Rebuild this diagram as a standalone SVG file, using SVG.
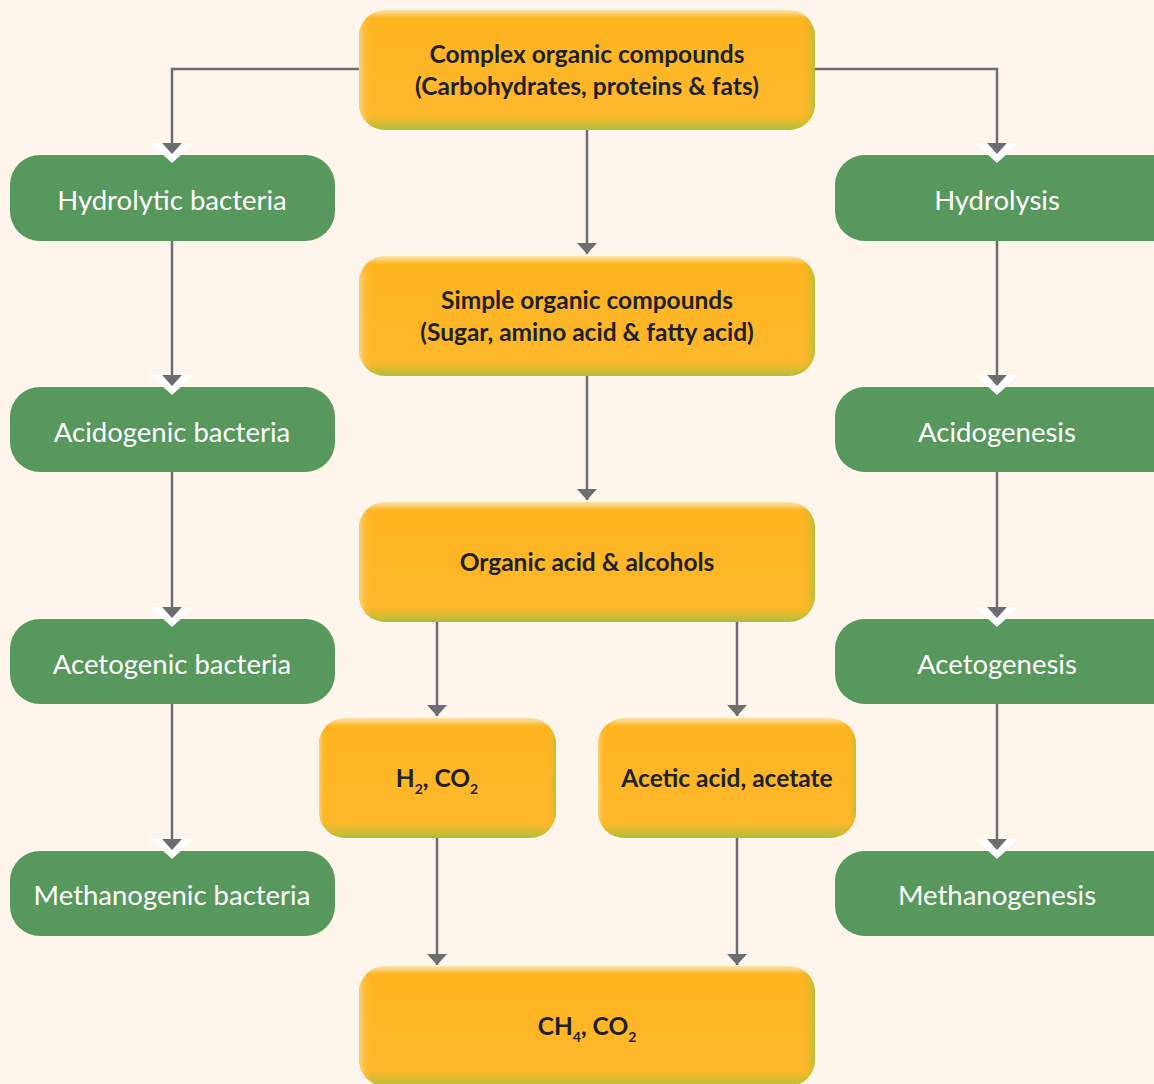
<svg xmlns="http://www.w3.org/2000/svg" width="1154" height="1084" viewBox="0 0 1154 1084">
<defs>
<linearGradient id="og" x1="0" y1="0" x2="0" y2="1">
<stop offset="0" stop-color="#fde3ad"/>
<stop offset="0.07" stop-color="#fdb520"/>
<stop offset="0.88" stop-color="#fdb82c"/>
<stop offset="0.95" stop-color="#d7bb32"/>
<stop offset="1" stop-color="#a6c140"/>
</linearGradient>
<linearGradient id="oh" x1="0" y1="0" x2="1" y2="0">
<stop offset="0" stop-color="#fde3ad" stop-opacity="0.6"/>
<stop offset="0.03" stop-color="#fdb520" stop-opacity="0"/>
<stop offset="0.97" stop-color="#fdb520" stop-opacity="0"/>
<stop offset="1" stop-color="#b6c038" stop-opacity="0.9"/>
</linearGradient>
<marker id="ar" viewBox="0 0 22 12" refX="11" refY="11" markerWidth="22" markerHeight="12" markerUnits="userSpaceOnUse" orient="0">
<path d="M1,0 L21,0 L11,11 Z" fill="#6d6e71"/>
</marker>
<marker id="arw" viewBox="0 0 44 22" refX="22" refY="1" markerWidth="44" markerHeight="22" markerUnits="userSpaceOnUse" orient="0">
<path d="M0,0 L44,0 L22,20 Z" fill="#ffffff"/>
<path d="M12,0 L32,0 L22,11 Z" fill="#6d6e71"/>
</marker>
<style>
.ob{fill:url(#og)}
.oh{fill:url(#oh)}
.gb{fill:#57985e}
.ot{font-family:Lato,"Liberation Sans",sans-serif;font-weight:bold;font-size:24.5px;fill:#231f20;text-anchor:middle}
.gt{font-family:Lato,"Liberation Sans",sans-serif;font-size:27.5px;fill:#ffffff;text-anchor:middle}
.ln{fill:none;stroke:#6d6e71;stroke-width:2.5}
</style>
</defs>
<rect width="1154" height="1084" fill="#fef6ec"/>
<g id="n-complex">
<rect class="ob" x="359" y="10" width="456" height="120" rx="26"/>
<rect class="oh" x="359" y="10" width="456" height="120" rx="26"/>
<text class="ot" x="587" y="63">Complex organic compounds</text>
<text class="ot" x="587" y="95">(Carbohydrates, proteins &amp; fats)</text>
</g>
<g id="n-simple">
<rect class="ob" x="359" y="256" width="456" height="120" rx="26"/>
<rect class="oh" x="359" y="256" width="456" height="120" rx="26"/>
<text class="ot" x="587" y="309">Simple organic compounds</text>
<text class="ot" x="587" y="341">(Sugar, amino acid &amp; fatty acid)</text>
</g>
<g id="n-organic">
<rect class="ob" x="359" y="502" width="456" height="120" rx="26"/>
<rect class="oh" x="359" y="502" width="456" height="120" rx="26"/>
<text class="ot" x="587" y="571">Organic acid &amp; alcohols</text>
</g>
<g id="n-h2">
<rect class="ob" x="319" y="718" width="237" height="120" rx="26"/>
<rect class="oh" x="319" y="718" width="237" height="120" rx="26"/>
<text class="ot" x="437" y="787">H<tspan font-size="14" dy="7">2</tspan><tspan dy="-7">, CO</tspan><tspan font-size="14" dy="7">2</tspan></text>
</g>
<g id="n-acetic">
<rect class="ob" x="598" y="718" width="258" height="120" rx="26"/>
<rect class="oh" x="598" y="718" width="258" height="120" rx="26"/>
<text class="ot" x="727" y="787">Acetic acid, acetate</text>
</g>
<g id="n-ch4">
<rect class="ob" x="359" y="966" width="456" height="120" rx="26"/>
<rect class="oh" x="359" y="966" width="456" height="120" rx="26"/>
<text class="ot" x="587" y="1035">CH<tspan font-size="14" dy="7">4</tspan><tspan dy="-7">, CO</tspan><tspan font-size="14" dy="7">2</tspan></text>
</g>
<g id="n-hydrolytic">
<rect class="gb" x="10" y="155" width="325" height="86" rx="30"/>
<text class="gt" x="172" y="210">Hydrolytic bacteria</text>
</g>
<g id="n-acidogenic">
<rect class="gb" x="10" y="387" width="325" height="85" rx="30"/>
<text class="gt" x="172" y="442">Acidogenic bacteria</text>
</g>
<g id="n-acetogenic">
<rect class="gb" x="10" y="619" width="325" height="85" rx="30"/>
<text class="gt" x="172" y="674">Acetogenic bacteria</text>
</g>
<g id="n-methanogenic">
<rect class="gb" x="10" y="851" width="325" height="85" rx="30"/>
<text class="gt" x="172" y="905">Methanogenic bacteria</text>
</g>
<g id="n-hydrolysis">
<rect class="gb" x="835" y="155" width="350" height="86" rx="30"/>
<text class="gt" x="997" y="210">Hydrolysis</text>
</g>
<g id="n-acidogenesis">
<rect class="gb" x="835" y="387" width="350" height="85" rx="30"/>
<text class="gt" x="997" y="442">Acidogenesis</text>
</g>
<g id="n-acetogenesis">
<rect class="gb" x="835" y="619" width="350" height="85" rx="30"/>
<text class="gt" x="997" y="674">Acetogenesis</text>
</g>
<g id="n-methanogenesis">
<rect class="gb" x="835" y="851" width="350" height="85" rx="30"/>
<text class="gt" x="997" y="905">Methanogenesis</text>
</g>
<g id="connectors">
<path class="ln" d="M359,69 H172 V144" marker-end="url(#arw)"/>
<path class="ln" d="M815,69 H997 V144" marker-end="url(#arw)"/>
<path class="ln" d="M172,241 V376" marker-end="url(#arw)"/>
<path class="ln" d="M172,472 V608" marker-end="url(#arw)"/>
<path class="ln" d="M172,704 V840" marker-end="url(#arw)"/>
<path class="ln" d="M997,241 V376" marker-end="url(#arw)"/>
<path class="ln" d="M997,472 V608" marker-end="url(#arw)"/>
<path class="ln" d="M997,704 V840" marker-end="url(#arw)"/>
<path class="ln" d="M587,130 V254" marker-end="url(#ar)"/>
<path class="ln" d="M587,376 V500" marker-end="url(#ar)"/>
<path class="ln" d="M437,622 V716" marker-end="url(#ar)"/>
<path class="ln" d="M737,622 V716" marker-end="url(#ar)"/>
<path class="ln" d="M437,838 V965" marker-end="url(#ar)"/>
<path class="ln" d="M737,838 V965" marker-end="url(#ar)"/>
</g>
</svg>
